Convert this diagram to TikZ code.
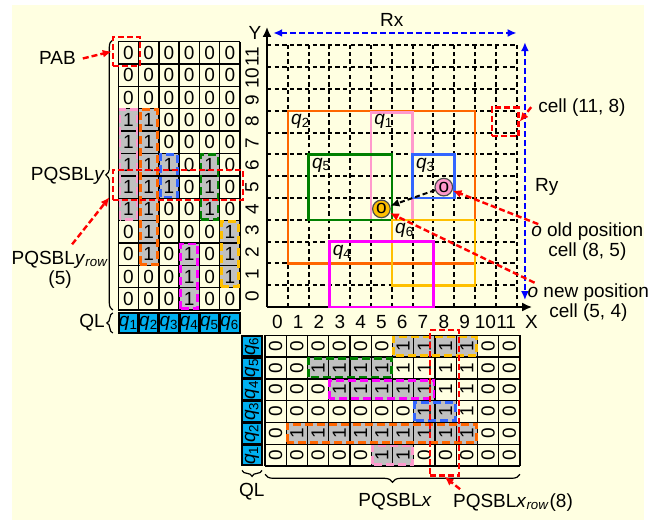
\documentclass[tikz,border=0pt]{standalone}
\usepackage{fontspec}
\setmainfont{Liberation Sans}
\usetikzlibrary{arrows.meta,decorations.pathreplacing,positioning}

\definecolor{bgcream}{RGB}{255,255,225}
\definecolor{qlblue}{RGB}{0,176,240}
\definecolor{qone}{RGB}{255,153,204}
\definecolor{qtwo}{RGB}{255,102,0}
\definecolor{qthree}{RGB}{51,102,255}
\definecolor{qfour}{RGB}{255,0,255}
\definecolor{qfive}{RGB}{0,128,0}
\definecolor{qsix}{RGB}{255,192,0}
\definecolor{cellgray}{RGB}{192,192,192}

\newcommand{\qlab}[1]{\textit{q}\textsubscript{#1}}

\tikzset{
  gridline/.style={black,line width=1pt,dash pattern=on 2.2pt off 1.6pt},
  cellline/.style={black,line width=0.7pt},
  bitbox/.style={line width=1.4pt,dash pattern=on 4pt off 2pt},
  qrect/.style={line width=1.3pt},
  redbox/.style={draw=red,line width=1.2pt,dash pattern=on 3pt off 1.5pt,inner sep=0pt},
  redarrow/.style={red,line width=1.2pt,dash pattern=on 3pt off 1.5pt,-{Latex[length=4.5pt,width=4pt]}},
  rangearrow/.style={blue,line width=1.2pt,dash pattern=on 3pt off 1.5pt,{Latex[length=4.5pt,width=4pt]}-{Latex[length=4.5pt,width=4pt]}},
  qlcell/.style={draw=black,fill=qlblue,line width=1pt,inner sep=0pt},
  posdot/.style={circle,draw=black!70,line width=0.6pt,minimum size=8.8pt,inner sep=0pt},
  bracedraw/.style={decorate,decoration={brace,amplitude=#1},line width=0.6pt},
  bit/.style={inner sep=0pt}
}

\begin{document}
\begin{tikzpicture}[x=0.5pt,y=-0.5pt,font=\fontsize{9.5}{10}\selectfont]
\useasboundingbox (0,0) rectangle (654,521);
\fill[bgcream] (12,5) rectangle (644,520);

\begin{scope}[shift={(267,307)},x=10.4pt,y=10.9pt]
\foreach \i in {1,...,12} \draw[gridline] (\i,0) -- (\i,12);
\foreach \j in {1,...,12} \draw[gridline] (0,\j) -- (12,\j);
\draw[line width=1pt,-{Latex[length=5pt,width=4.5pt]}] (0,0) -- (12.75,0);
\draw[line width=1pt,-{Latex[length=5pt,width=4.5pt]}] (0,0) -- (0,12.85);
\node (xlab) at (12.72,-0.68) {X};
\node (ylab) at (-0.58,12.57) {Y};
\foreach \i in {0,...,11} \node (xt\i) at (\i+0.5,-0.7) {\i};
\foreach \j in {0,...,11} \node[rotate=90] (yt\j) at (-0.72,\j+0.5) {\j};

\draw[qrect,qtwo] (1,2) rectangle (10,9);
\draw[qrect,qone] (5,4) rectangle (7,8.92);
\draw[qrect,qfive] (2,4) rectangle (6,7);
\draw[qrect,qthree] (7,5) rectangle (9,7);
\draw[qrect,qsix] (6,1) rectangle (10,4);
\draw[qrect,qfour] (3,0) rectangle (8,3);
\node[anchor=north west,inner sep=1.5pt] (rq2) at (1,9) {\qlab{2}};
\node[anchor=north west,inner sep=1.5pt] (rq1) at (5,9) {\qlab{1}};
\node[anchor=north west,inner sep=1.5pt] (rq5) at (2,7) {\qlab{5}};
\node[anchor=north west,inner sep=1.5pt] (rq3) at (7,7) {\qlab{3}};
\node[anchor=north west,inner sep=1.5pt] (rq6) at (6,4) {\qlab{6}};
\node[anchor=north west,inner sep=1.5pt] (rq4) at (3,3) {\qlab{4}};

\node[posdot,fill=qone] (old) at (8.5,5.5) {o};
\node[posdot,fill=qsix] (new) at (5.5,4.5) {o};
\draw[line width=1pt,dash pattern=on 2.5pt off 1.5pt,-{Latex[length=4.5pt,width=4pt]}] (old) -- (new);

\coordinate (rxl) at (0.3,12.57);
\coordinate (rxr) at (12,12.57);
\draw[rangearrow] (rxl) -- (rxr);
\node (rx) at (6,13.15) {Rx};
\coordinate (ryt) at (12.4,12.15);
\coordinate (ryb) at (12.4,0.32);
\draw[rangearrow] (ryt) -- (ryb);
\node (ry) at (13.45,5.5) {Ry};

\node[redbox,minimum width=13.3pt,minimum height=14.2pt] (cellbox) at (11.45,8.5) {};
\node (celllab) at (15.14,9.17) {cell (11, 8)};
\draw[redarrow] (celllab.west) -- (cellbox.east);

\node[align=center] (oldlab) at (15.4,2.98) {\textit{o} old position\\cell (8, 5)};
\node[align=center] (newlab) at (15.45,0.2) {\textit{o} new position\\cell (5, 4)};
\draw[redarrow] ([xshift=7pt,yshift=-4pt]oldlab.north west) -- (old);
\draw[redarrow] ([xshift=7pt,yshift=-3pt]newlab.north west) -- (new);
\end{scope}

\begin{scope}[shift={(118.3,310)},x=10.14pt,y=11.18pt]
\foreach \c/\a/\b/\col in {0/4/9/qone,1/2/9/qtwo,2/5/7/qthree,3/0/3/qfour,4/4/7/qfive,5/1/4/qsix}
  \fill[cellgray] (\c,\a) rectangle (\c+1,\b);
\foreach \i in {0,...,6} \draw[cellline] (\i,0) -- (\i,12);
\foreach \j in {0,...,12} \draw[cellline] (0,\j) -- (6,\j);
\foreach \c/\a/\b/\col in {0/4/9/qone,1/2/9/qtwo,2/5/7/qthree,3/0/3/qfour,4/4/7/qfive,5/1/4/qsix}
  \draw[bitbox,draw=\col] (\c+0.08,\a+0.05) rectangle (\c+0.92,\b-0.05);
\foreach \r/\vals in {11/{0,0,0,0,0,0},10/{0,0,0,0,0,0},9/{0,0,0,0,0,0},8/{1,1,0,0,0,0},7/{1,1,0,0,0,0},6/{1,1,1,0,1,0},5/{1,1,1,0,1,0},4/{1,1,0,0,1,0},3/{0,1,0,0,0,1},2/{0,1,0,1,0,1},1/{0,0,0,1,0,1},0/{0,0,0,1,0,0}}
  \foreach \v [count=\c from 0] in \vals
    \node[bit] (ly-\c-\r) at (\c+0.5,\r+0.5) {\v};
\foreach \c in {1,...,6}
  \node[qlcell,minimum width=9.7pt,minimum height=9.8pt] (qly\c) at (\c-0.5,-0.58) {\qlab{\c}};

\draw[bracedraw=3.5pt] (-0.27,0) -- (-0.27,12.08);
\node[anchor=east,inner sep=1pt] (pqsbly) at (-0.55,6) {PQSBL\textit{y}};
\draw[bracedraw=3pt] (-0.27,-1.03) -- (-0.27,-0.13);
\node[anchor=east,inner sep=1pt] (qlleft) at (-0.55,-0.58) {QL};

\node[redbox,minimum width=13.5pt,minimum height=14.5pt] (pabbox) at (0.4,11.56) {};
\node (pab) at (-3,11.25) {PAB};
\draw[redarrow] (pab.east) -- (pabbox.west);

\node[redbox,minimum width=65pt,minimum height=15pt] (rowbox) at (2.93,5.59) {};
\node[align=center] (rowlab) at (-2.87,1.79) {PQSBL\textit{y}\textsubscript{\textit{row}}\\(5)};
\draw[redarrow] ([xshift=6pt]rowlab.north) -- ([xshift=-1pt,yshift=2pt]rowbox.south west);
\end{scope}

\begin{scope}[shift={(265,466)},x=10.625pt,y=10.9pt]
\foreach \r/\a/\b/\col in {0/5/7/qone,1/1/10/qtwo,2/7/9/qthree,3/3/8/qfour,4/2/6/qfive,5/6/10/qsix}
  \fill[cellgray] (\a,\r) rectangle (\b,\r+1);
\foreach \i in {0,...,12} \draw[cellline] (\i,0) -- (\i,6);
\foreach \j in {0,...,6} \draw[cellline] (0,\j) -- (12,\j);
\foreach \r/\a/\b/\col in {0/5/7/qone,1/1/10/qtwo,2/7/9/qthree,3/3/8/qfour,4/2/6/qfive,5/6/10/qsix}
  \draw[bitbox,draw=\col] (\a+0.05,\r+0.08) rectangle (\b-0.05,\r+0.92);
\foreach \r/\vals in {0/{0,0,0,0,0,1,1,0,0,0,0,0},1/{0,1,1,1,1,1,1,1,1,1,0,0},2/{0,0,0,0,0,0,0,1,1,1,0,0},3/{0,0,0,1,1,1,1,1,1,1,0,0},4/{0,0,1,1,1,1,1,1,1,1,0,0},5/{0,0,0,0,0,0,1,1,1,1,0,0}}
  \foreach \v [count=\c from 0] in \vals
    \node[bit,rotate=90] (px-\c-\r) at (\c+0.5,\r+0.5) {\v};
\foreach \r in {1,...,6}
  \node[qlcell,rotate=90,minimum width=10.3pt,minimum height=9.7pt] (qlx\r) at (-0.61,\r-0.5) {\qlab{\r}};

\draw[bracedraw=3pt] (-0.14,-0.2) -- (-1.08,-0.2);
\node (qlbottom) at (-0.62,-1.18) {QL};
\draw[bracedraw=4pt] (12,-0.38) -- (0,-0.38);
\node (pqsblx) at (6.12,-1.64) {PQSBL\textit{x}};

\node[redbox,minimum width=14.7pt,minimum height=72.8pt] (rowxbox) at (8.45,2.9) {};
\node (rowxlab) at (11.67,-1.7) {PQSBL\textit{x}\textsubscript{\textit{row}}(8)};
\draw[redarrow] ([xshift=7pt,yshift=-1pt]rowxlab.north west) -- (rowxbox.south);
\end{scope}
\end{tikzpicture}
\end{document}
